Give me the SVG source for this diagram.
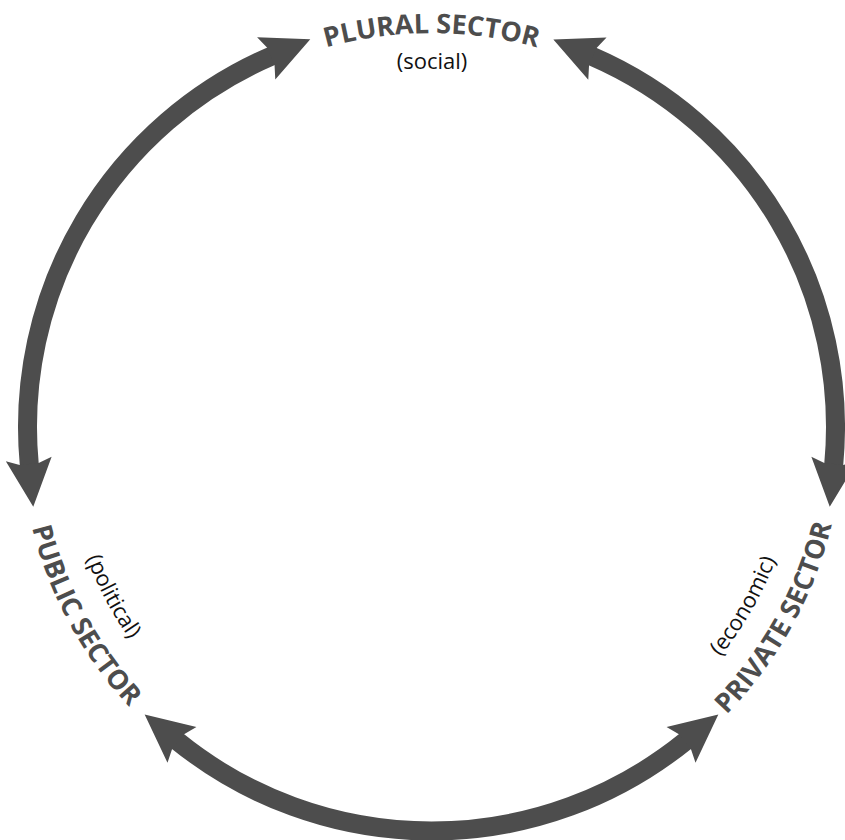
<svg xmlns="http://www.w3.org/2000/svg" width="845" height="840" viewBox="0 0 845 840">
  <style>
    .arc { fill: none; stroke: #4d4d4d; stroke-width: 19; marker-start: url(#head); marker-end: url(#head); }
    .title { font-family: "Open Sans", "Liberation Sans", sans-serif; font-weight: bold; font-size: 27px; fill: #4d4d4d; }
    .sub { font-family: "Open Sans", "Liberation Sans", sans-serif; font-size: 22px; fill: #111111; }
  </style>
  <defs>
    <marker id="head" markerUnits="userSpaceOnUse" orient="auto-start-reverse" markerWidth="60" markerHeight="60" viewBox="-10 -30 60 60" refX="0" refY="0" overflow="visible">
      <polygon points="42,0 -6,-23 -1,-9.5 -1,9.5 -6,23" fill="#4d4d4d"/>
    </marker>
    <path id="pTop" d="M 61.3 292.2 A 394 394 0 0 1 801.7 292.2"/>
    <path id="pLeft" d="M 80.2 211.7 A 412 412 0 0 0 420.7 838.9"/>
    <path id="pLeftSub" d="M 118.6 231.5 A 369 369 0 0 0 418.6 795.8"/>
    <path id="pRight" d="M 438.7 838.9 A 412 412 0 0 0 784.7 214.8"/>
    <path id="pRightSub" d="M 432.8 796 A 369 369 0 0 0 750.4 241.4"/>
  </defs>
  <rect width="845" height="840" fill="#ffffff"/>
  <g id="connectors">
    <path class="arc" d="M 29.3 465.0 A 404 404 0 0 1 271.7 55.9"/>
    <path class="arc" d="M 591.9 56.2 A 404 404 0 0 1 833.7 465.0"/>
    <path class="arc" d="M 685.7 741 A 404 404 0 0 1 177.3 741"/>
  </g>
  <g id="plural-sector">
    <text class="title"><textPath href="#pTop" startOffset="50%" text-anchor="middle">PLURAL SECTOR</textPath></text>
    <text class="sub" x="432" y="69" text-anchor="middle">(social)</text>
  </g>
  <g id="public-sector">
    <text class="title"><textPath href="#pLeft" startOffset="50%" text-anchor="middle">PUBLIC SECTOR</textPath></text>
    <text class="sub"><textPath href="#pLeftSub" startOffset="50%" text-anchor="middle">(political)</textPath></text>
  </g>
  <g id="private-sector">
    <text class="title"><textPath href="#pRight" startOffset="50%" text-anchor="middle">PRIVATE SECTOR</textPath></text>
    <text class="sub"><textPath href="#pRightSub" startOffset="50%" text-anchor="middle">(economic)</textPath></text>
  </g>
</svg>
